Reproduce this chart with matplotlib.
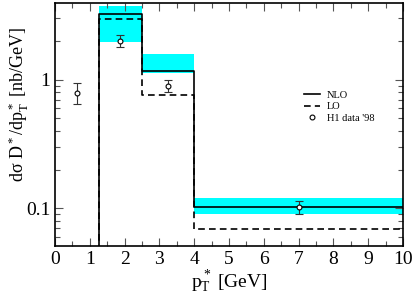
import matplotlib
matplotlib.use("Agg")
import matplotlib.pyplot as plt
import numpy as np
from matplotlib.lines import Line2D
from matplotlib.ticker import LogLocator, NullFormatter, FixedLocator, FixedFormatter, MultipleLocator

# bin edges and values
edges = [1.25, 2.5, 4.0, 10.0]
nlo = [3.24, 1.17, 0.102]
lo = [2.95, 0.76, 0.0687]
band_lo = [1.97, 1.12, 0.0908]
band_hi = [3.74, 1.58, 0.121]

# H1 data '98
data_x = [0.62, 1.87, 3.24, 7.0]
data_y = [0.79, 2.01, 0.893, 0.102]
data_lo = [0.65, 1.81, 0.80, 0.0898]
data_hi = [0.94, 2.21, 0.99, 0.114]

plt.rcParams['font.family'] = ['Liberation Serif', 'DejaVu Serif']
plt.rcParams['mathtext.fontset'] = 'custom'
plt.rcParams['mathtext.rm'] = 'Liberation Serif'
plt.rcParams['mathtext.it'] = 'Liberation Serif'

fig = plt.figure(figsize=(4.15, 3.07), dpi=100)
ax = fig.add_axes([55/415, 1 - 245.7/307, (403-55)/415, (245.7-3)/307])

ymin, ymax = 0.0512, 3.95

# bands
for i in range(3):
    ax.fill_between([edges[i], edges[i+1]], band_lo[i], band_hi[i], color='#00FFFF', lw=0, zorder=1)

# step lines
def step_xy(vals):
    xs = [edges[0]]
    ys = [ymin * 0.5]
    for i, v in enumerate(vals):
        xs += [edges[i], edges[i+1]]
        ys += [v, v]
    return xs, ys

xs, ys = step_xy(lo)
ax.plot(xs, ys, color='black', ls=(0, (4, 2.5)), lw=1.2, zorder=2)
xs, ys = step_xy(nlo)
ax.plot(xs, ys, color='black', ls='-', lw=1.2, zorder=3)

yerr = [np.array(data_y) - np.array(data_lo), np.array(data_hi) - np.array(data_y)]
ax.errorbar(data_x, data_y, yerr=yerr, fmt='o', ms=3.5, mfc='white', mec='black', mew=0.8,
            ecolor='#333333', elinewidth=0.8, capsize=3, capthick=0.8, zorder=4)

ax.set_yscale('log')
ax.set_xlim(0, 10)
ax.set_ylim(ymin, ymax)

ax.xaxis.set_major_locator(MultipleLocator(1))
ax.xaxis.set_minor_locator(MultipleLocator(0.5))
ax.yaxis.set_major_locator(FixedLocator([0.1, 1]))
ax.yaxis.set_major_formatter(FixedFormatter(['0.1', '1']))
ax.yaxis.set_minor_locator(LogLocator(base=10, subs=np.arange(2, 10)))
ax.yaxis.set_minor_formatter(NullFormatter())

ax.tick_params(which='both', direction='in', top=True, right=True, labelsize=14, color='#555555')
ax.tick_params(which='major', length=6, width=0.8)
ax.tick_params(which='minor', length=3.5, width=0.8)
ax.tick_params(axis='x', pad=4)
for s in ax.spines.values():
    s.set_linewidth(1.2)

ax.set_xlabel(r'p$^*_{\mathrm{T}}$ [GeV]', fontsize=14, labelpad=0)
ax.set_ylabel(r'd$\sigma$ D$^*$/dp$^*_{\mathrm{T}}$ [nb/GeV]', fontsize=13)
ax.yaxis.set_label_coords(-0.07, 0.58)

handles = [Line2D([], [], color='black', lw=1.2),
           Line2D([], [], color='black', lw=1.2, ls=(0, (4, 2.5))),
           Line2D([], [], color='black', lw=0, marker='o', ms=3.5, mfc='white', mew=0.8)]
ax.legend(handles, ['NLO', 'LO', "H1 data '98"], loc='upper left',
          bbox_to_anchor=(0.70, 0.66), frameon=False, fontsize=7.5, handlelength=1.6,
          handletextpad=0.6, labelspacing=0.2, borderpad=0)

fig.savefig('out.png', dpi=100)
